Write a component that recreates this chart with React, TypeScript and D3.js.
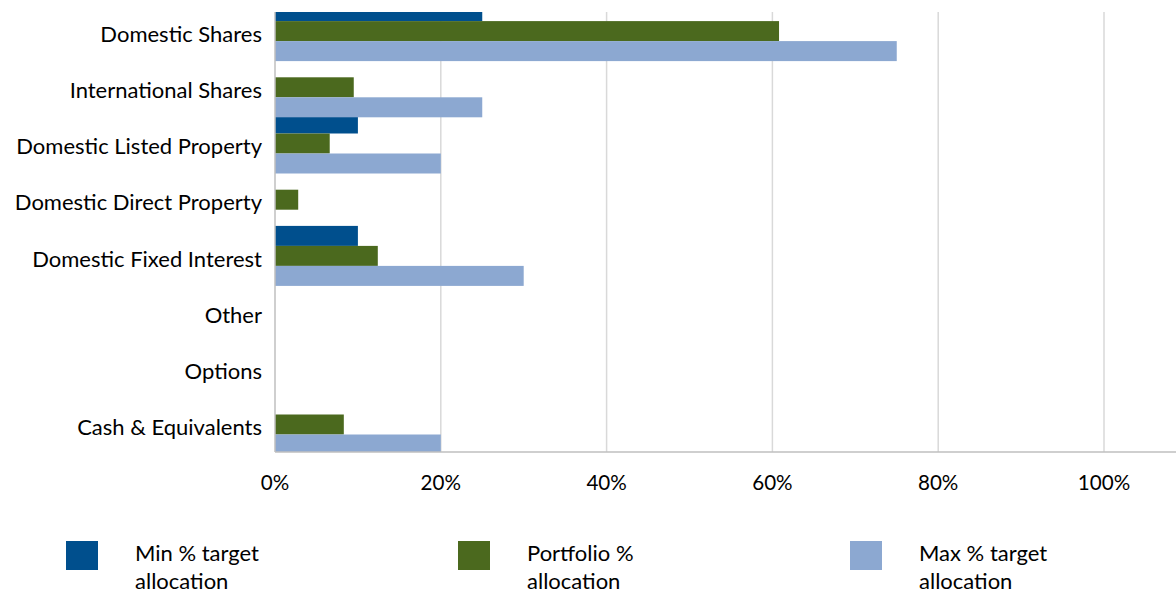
import React, { useEffect, useRef } from 'react';
import * as d3 from 'd3';

const categories = [
  'Domestic Shares',
  'International Shares',
  'Domestic Listed Property',
  'Domestic Direct Property',
  'Domestic Fixed Interest',
  'Other',
  'Options',
  'Cash & Equivalents',
];
const minTarget = [25, 0, 10, 0, 10, 0, 0, 0];
const portfolio = [60.8, 9.5, 6.6, 2.8, 12.4, 0, 0, 8.3];
const maxTarget = [75, 25, 20, 0, 30, 0, 0, 20];
const ticks = [0, 20, 40, 60, 80, 100];

const seriesNames = ['Min % target allocation', 'Portfolio % allocation', 'Max % target allocation'];
const seriesColors = ['#004f8d', '#4b691e', '#8ca8d1'];

export default function App() {
  const ref = useRef<SVGSVGElement>(null);

  useEffect(() => {
    if (!ref.current) return;
    const svg = d3.select(ref.current);
    svg.selectAll('*').remove();

    const W = 1176, H = 592;
    const left = 275, right = 1176, top = 12, bottom = 452;
    const font = 'Lato, "Open Sans", sans-serif';

    const x = d3.scaleLinear().domain([0, 100]).range([left, 1104]);
    const y = d3.scaleBand<string>().domain(categories).range([3, 452.6]);
    const barH = 20;

    svg.attr('width', W).attr('height', H).style('display', 'block');

    svg.append('defs').append('clipPath').attr('id', 'plot-clip')
      .append('rect').attr('x', left).attr('y', top).attr('width', right - left).attr('height', bottom - top);

    // gridlines
    svg.append('g').selectAll('line').data(ticks.slice(1)).join('line')
      .attr('x1', d => x(d)).attr('x2', d => x(d))
      .attr('y1', top).attr('y2', bottom)
      .attr('stroke', '#d9d9d9').attr('stroke-width', 1.5);

    const series = [minTarget, portfolio, maxTarget];
    const bars = svg.append('g').attr('clip-path', 'url(#plot-clip)');
    series.forEach((vals, si) => {
      bars.append('g').selectAll('rect').data(categories).join('rect')
        .attr('x', x(0))
        .attr('y', (c) => (y(c)! + y.bandwidth() / 2) - 30 + si * barH)
        .attr('width', (c, i) => x(vals[i]) - x(0))
        .attr('height', barH)
        .attr('fill', seriesColors[si]);
    });

    // axes lines
    svg.append('line').attr('x1', left).attr('x2', left).attr('y1', top).attr('y2', bottom)
      .attr('stroke', '#bfbfbf').attr('stroke-width', 1.5);
    svg.append('line').attr('x1', left).attr('x2', right).attr('y1', bottom).attr('y2', bottom)
      .attr('stroke', '#bfbfbf').attr('stroke-width', 1.5);

    // category labels
    svg.append('g').selectAll('text').data(categories).join('text')
      .attr('x', 262)
      .attr('y', c => y(c)! + y.bandwidth() / 2 + 3)
      .attr('dy', '0.35em')
      .attr('text-anchor', 'end')
      .attr('font-family', font).attr('font-size', 22).attr('fill', '#000')
      .text(c => c);

    // tick labels
    svg.append('g').selectAll('text').data(ticks).join('text')
      .attr('x', d => x(d))
      .attr('y', 490)
      .attr('text-anchor', 'middle')
      .attr('font-family', font).attr('font-size', 20.6).attr('fill', '#000')
      .text(d => `${d}%`);

    // legend
    const lg = svg.append('g').selectAll('g').data(seriesNames).join('g')
      .attr('transform', (d, i) => `translate(${66 + i * 392},541)`);
    lg.append('rect').attr('width', 32).attr('height', 29).attr('fill', (d, i) => seriesColors[i]);
    const lt = lg.append('text').attr('font-family', font).attr('font-size', 22).attr('fill', '#000');
    lt.append('tspan').attr('x', 69).attr('y', 20).text(d => d.split(' ').slice(0, -1).join(' '));
    lt.append('tspan').attr('x', 69).attr('y', 48).text(d => d.split(' ').slice(-1)[0]);
  }, []);

  return (
    <div style={{ position: 'absolute', left: 0, top: 0, width: 1176, height: 592, overflow: 'hidden' }}>
      <svg ref={ref} />
    </div>
  );
}
